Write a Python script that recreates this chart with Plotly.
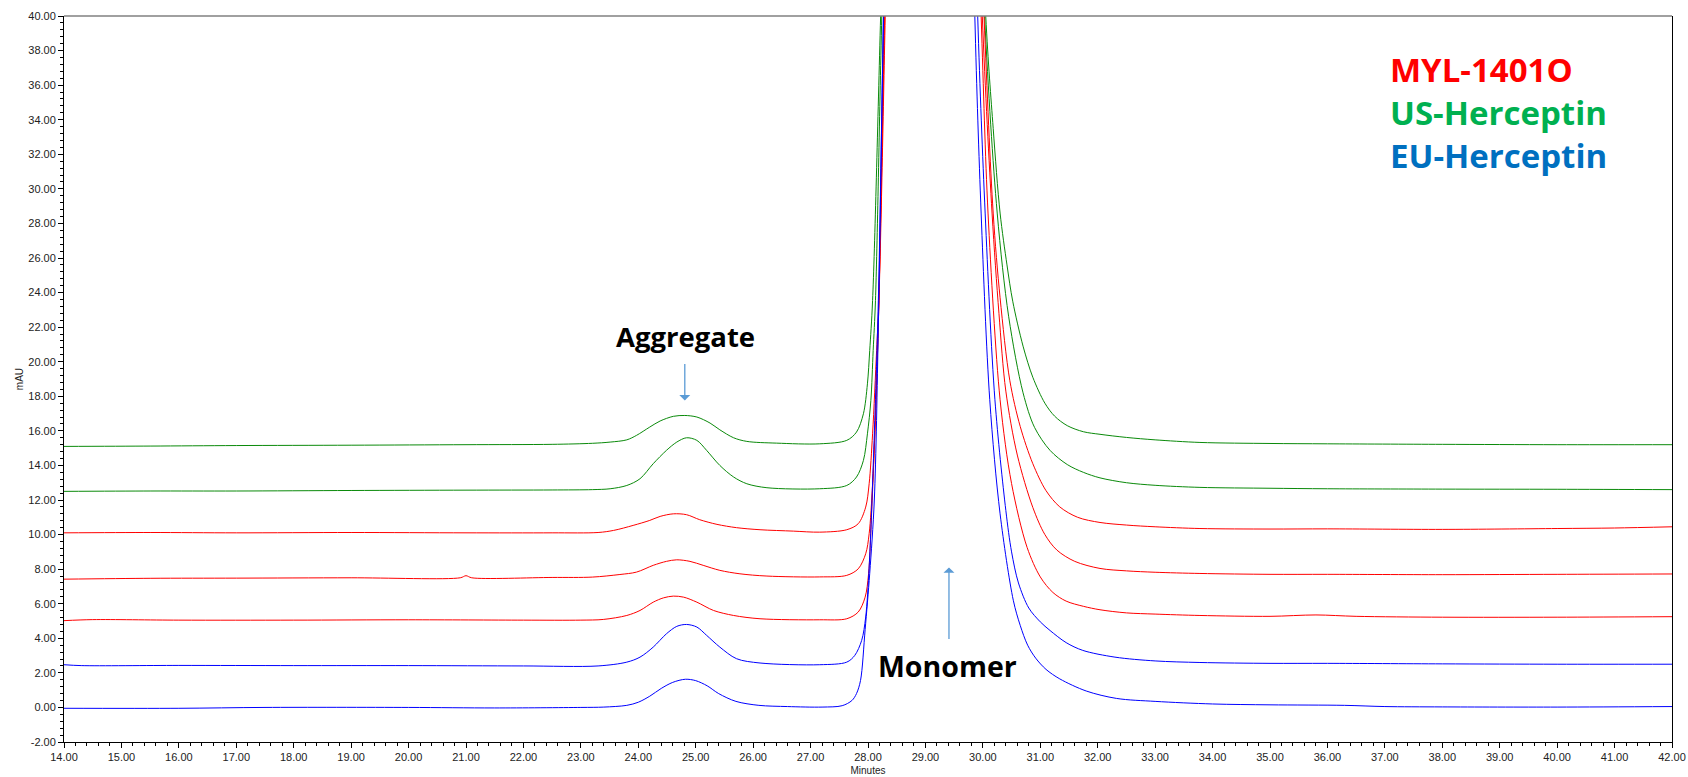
import plotly.graph_objects as go

# ---------------- data ----------------
x_ticks = [14 + i for i in range(29)]           # 14.00 ... 42.00
y_ticks = [-2 + 2 * i for i in range(22)]       # -2.00 ... 40.00

series_names = ["US-Herceptin", "US-Herceptin", "MYL-1401O", "MYL-1401O",
                "MYL-1401O", "EU-Herceptin", "EU-Herceptin"]

# US-Herceptin, lot 1 (top green)
us1_t = [14, 15.5, 17, 19, 21, 22.5, 23.2, 23.51, 23.80, 23.97, 24.20, 24.38, 24.61, 24.81, 25.02, 25.25,
         25.42, 25.66, 25.89, 26.41, 27.16, 27.63, 27.80, 27.92, 27.99, 28.03, 28.08, 28.22, 28.5, 29.1,
         29.65, 30.05, 30.18, 30.3, 30.42, 30.52, 30.7, 30.87, 31.08, 31.25, 31.47, 31.75, 32.04, 32.5,
         33.0, 33.78, 35, 36, 38, 40, 42]
us1_v = [15.10, 15.12, 15.15, 15.17, 15.20, 15.22, 15.28, 15.35, 15.48, 15.74, 16.22, 16.57, 16.84, 16.89,
         16.80, 16.45, 16.06, 15.60, 15.39, 15.29, 15.25, 15.45, 15.93, 16.99, 18.72, 20.65, 23.55, 40.0,
         75, 95, 75, 40.0, 33.5, 28.6, 25.6, 23.5, 20.9, 19.1, 17.6, 16.85, 16.3, 15.95, 15.8, 15.62,
         15.48, 15.33, 15.27, 15.25, 15.22, 15.20, 15.20]

# US-Herceptin, lot 2 (second green)
us2_t = [14, 15.5, 17, 19, 21, 22.5, 23.2, 23.51, 23.80, 24.03, 24.26, 24.49, 24.67, 24.84, 25.02, 25.19,
         25.42, 25.66, 25.89, 26.24, 27.16, 27.63, 27.80, 27.92, 27.99, 28.05, 28.09, 28.13, 28.24, 28.5,
         29.1, 29.65, 30.03, 30.25, 30.45, 30.70, 30.9, 31.17, 31.47, 31.75, 32.04, 32.5, 33.0, 33.78, 35,
         36, 38, 40, 42]
us2_v = [12.50, 12.52, 12.52, 12.55, 12.57, 12.58, 12.60, 12.65, 12.84, 13.23, 14.10, 14.87, 15.35, 15.60,
         15.45, 14.87, 14.00, 13.33, 12.94, 12.71, 12.65, 12.84, 13.33, 14.29, 15.83, 17.76, 20.65, 23.55,
         40.0, 75, 95, 75, 40.0, 28.6, 22.6, 18.2, 16.2, 14.87, 14.05, 13.60, 13.28, 13.0, 12.85, 12.73,
         12.68, 12.65, 12.63, 12.62, 12.60]

# MYL-1401O, lot 1 (upper red)
myl1_t = [14, 15.5, 17, 19, 21, 22.5, 23.3, 23.57, 23.91, 24.20, 24.38, 24.61, 24.84, 25.07, 25.37, 25.71,
          26.12, 26.70, 27.16, 27.63, 27.83, 27.96, 28.02, 28.08, 28.15, 28.19, 28.30, 28.5, 29.1, 29.65,
          30.02, 30.18, 30.3, 30.47, 30.65, 30.87, 31.1, 31.34, 31.65, 32.04, 32.5, 33.0, 33.78, 35, 36,
          38, 40, 41, 42]
myl1_v = [10.10, 10.12, 10.10, 10.12, 10.10, 10.10, 10.12, 10.24, 10.53, 10.82, 11.05, 11.20, 11.15, 10.86,
          10.59, 10.40, 10.28, 10.20, 10.14, 10.28, 10.63, 11.59, 12.94, 15.83, 20.65, 23.55, 40.0, 75, 95,
          75, 40.0, 28.6, 23.7, 18.9, 16.26, 14.1, 12.54, 11.6, 11.0, 10.70, 10.55, 10.45, 10.35, 10.32,
          10.33, 10.30, 10.35, 10.38, 10.45]

# MYL-1401O, lot 2 (middle red)
myl2_t = [14, 15.5, 17, 19, 20.9, 21.0, 21.1, 22.5, 23.2, 23.68, 23.97, 24.26, 24.49, 24.67, 24.90, 25.13,
          25.42, 25.77, 26.24, 27.16, 27.63, 27.83, 27.96, 28.02, 28.08, 28.14, 28.19, 28.29, 28.5, 29.1,
          29.65, 29.99, 30.16, 30.28, 30.40, 30.6, 30.87, 31.08, 31.29, 31.6, 32.04, 32.5, 33.0, 33.78, 35,
          36, 38, 40, 42]
myl2_v = [7.42, 7.47, 7.48, 7.50, 7.50, 7.62, 7.50, 7.52, 7.54, 7.69, 7.83, 8.22, 8.45, 8.54, 8.45, 8.22,
          7.93, 7.73, 7.60, 7.55, 7.64, 8.02, 8.89, 10.05, 12.94, 17.76, 23.55, 40.0, 75, 95, 75, 40.0, 28.6,
          22.8, 18.3, 14.6, 11.57, 10.0, 9.1, 8.45, 8.04, 7.90, 7.82, 7.75, 7.70, 7.70, 7.68, 7.70, 7.72]

# MYL-1401O, lot 3 (lower red)
myl3_t = [14, 14.5, 16, 18, 20, 22, 23.0, 23.39, 23.80, 24.03, 24.26, 24.44, 24.61, 24.79, 25.02, 25.31,
          25.66, 26.12, 27.16, 27.63, 27.83, 27.95, 28.01, 28.06, 28.13, 28.19, 28.28, 28.5, 29.1, 29.65,
          29.97, 30.09, 30.30, 30.5, 30.77, 31.0, 31.22, 31.45, 31.75, 32.04, 32.5, 33.0, 33.78, 35.0, 35.8,
          36.5, 38, 40, 42]
myl3_v = [5.02, 5.08, 5.05, 5.05, 5.07, 5.05, 5.05, 5.09, 5.32, 5.61, 6.09, 6.34, 6.44, 6.38, 6.09, 5.61,
          5.32, 5.13, 5.07, 5.13, 5.52, 6.38, 7.73, 11.01, 16.80, 23.55, 40.0, 75, 95, 75, 40.0, 28.6, 17.8,
          12.95, 9.26, 7.55, 6.65, 6.15, 5.85, 5.65, 5.47, 5.40, 5.32, 5.27, 5.35, 5.27, 5.22, 5.22, 5.25]

# EU-Herceptin, lot 1 (upper blue)
eu1_t = [14, 14.3, 16, 18, 20, 22, 23.3, 23.80, 24.03, 24.26, 24.49, 24.67, 24.84, 25.02, 25.19, 25.42,
         25.71, 26.12, 27.16, 27.63, 27.77, 27.89, 27.96, 28.02, 28.09, 28.18, 28.27, 28.5, 29.1, 29.65,
         29.91, 30.04, 30.21, 30.4, 30.5, 30.62, 30.8, 31.0, 31.17, 31.45, 31.74, 32.3, 33.0, 33.78, 35, 36,
         38, 40, 42]
eu1_v = [2.47, 2.42, 2.43, 2.42, 2.42, 2.40, 2.40, 2.62, 2.91, 3.49, 4.26, 4.69, 4.80, 4.65, 4.17, 3.49,
         2.82, 2.57, 2.47, 2.62, 3.01, 3.88, 5.23, 8.12, 13.90, 23.55, 40.0, 75, 95, 75, 40.0, 28.6, 17.8,
         11.4, 9.0, 7.2, 5.75, 4.95, 4.45, 3.75, 3.30, 2.91, 2.69, 2.60, 2.55, 2.55, 2.52, 2.50, 2.50]

# EU-Herceptin, lot 2 (bottom blue)
eu2_t = [14, 16, 17.5, 20, 21.5, 23.0, 23.4, 23.8, 24.0, 24.2, 24.4, 24.6, 24.82, 25.0, 25.2, 25.4, 25.7,
         26.1, 26.6, 27.2, 27.55, 27.72, 27.8, 27.87, 27.95, 28.03, 28.11, 28.18, 28.27, 28.5, 29.1, 29.65,
         29.86, 29.97, 30.12, 30.30, 30.53, 30.65, 30.78, 30.92, 31.1, 31.34, 31.8, 32.33, 33.0, 34.0, 35,
         36.3, 37.0, 38, 40, 42]
eu2_v = [-0.05, -0.05, 0.0, 0.0, -0.03, 0.0, 0.02, 0.12, 0.30, 0.65, 1.10, 1.45, 1.63, 1.55, 1.25, 0.80,
         0.35, 0.12, 0.05, 0.02, 0.10, 0.40, 0.80, 1.56, 4.50, 7.75, 12.0, 22.0, 40.0, 75, 95, 75, 40.0,
         28.6, 17.8, 11.2, 6.2, 4.75, 3.6, 2.85, 2.2, 1.65, 0.95, 0.52, 0.35, 0.20, 0.15, 0.12, 0.05, 0.03,
         0.02, 0.05]

legend_labels = ["MYL-1401O", "US-Herceptin", "EU-Herceptin"]
legend_colors = ["#FF0000", "#00B050", "#0070C0"]

# ---------------- figure ----------------
RED, GREEN, BLUE = "#FF0000", "#0A8A0A", "#0000FF"
traces = [
    (us1_t, us1_v, GREEN, series_names[0]),
    (us2_t, us2_v, GREEN, series_names[1]),
    (myl1_t, myl1_v, RED, series_names[2]),
    (myl2_t, myl2_v, RED, series_names[3]),
    (myl3_t, myl3_v, RED, series_names[4]),
    (eu1_t, eu1_v, BLUE, series_names[5]),
    (eu2_t, eu2_v, BLUE, series_names[6]),
]

fig = go.Figure()
for t, v, c, n in traces:
    fig.add_trace(go.Scatter(x=t, y=v, mode="lines", name=n, showlegend=False,
                             line=dict(color=c, width=1.0, shape="spline", smoothing=0.9),
                             hoverinfo="skip"))

tickfont = dict(family="Liberation Sans, Arial, sans-serif", size=11, color="#222222")
titlefont = dict(family="Liberation Sans, Arial, sans-serif", size=10, color="#222222")

fig.update_layout(
    width=1688, height=777,
    margin=dict(l=64, r=16, t=16, b=35),
    paper_bgcolor="white", plot_bgcolor="white",
    xaxis=dict(range=[14, 42], tickvals=x_ticks, ticktext=[f"{v:.2f}" for v in x_ticks],
               automargin=False,
               showgrid=False, zeroline=False, showline=True, linecolor="black", linewidth=1,
               ticks="outside", ticklen=5, tickcolor="black", tickfont=tickfont,
               minor=dict(dtick=0.2, ticks="outside", ticklen=3, tickcolor="black", showgrid=False),
               title=dict(text="Minutes", font=titlefont, standoff=4)),
    yaxis=dict(range=[-2, 40], tickvals=y_ticks, ticktext=[f"{v:.2f}" for v in y_ticks],
               automargin=False,
               showgrid=False, zeroline=False, showline=True, linecolor="black", linewidth=1,
               mirror=True,
               ticks="outside", ticklen=5, tickcolor="black", tickfont=tickfont,
               minor=dict(dtick=0.4, ticks="outside", ticklen=3, tickcolor="black", showgrid=False),
               title=dict(text="mAU", font=titlefont, standoff=2)),
    shapes=[dict(type="line", xref="paper", yref="paper", x0=0, x1=1, y0=1, y1=1,
                 line=dict(color="#808080", width=1.5))],
)

label_font = "Open Sans, Noto Sans, sans-serif"
legend_text = "<br>".join(f"<span style='color:{c}'><b>{lab}</b></span>"
                          for lab, c in zip(legend_labels, legend_colors))
ann = [dict(xref="paper", yref="paper", x=0.8234, y=0.8675, xanchor="left", yanchor="middle",
            align="left", showarrow=False, text=legend_text,
            font=dict(family=label_font, size=33, color="#FF0000"))]
ann.append(dict(xref="paper", yref="paper", x=0.3868, y=0.5585, xanchor="center", yanchor="middle",
                showarrow=False, text="<b>Aggregate</b>",
                font=dict(family=label_font, size=27.5, color="black")))
ann.append(dict(xref="paper", yref="paper", x=0.5495, y=0.104, xanchor="center", yanchor="middle",
                showarrow=False, text="<b>Monomer</b>",
                font=dict(family=label_font, size=28.5, color="black")))
# arrows
ann.append(dict(x=24.81, y=17.76, xref="x", yref="y", ax=0, ay=-38, text="", showarrow=True,
                arrowhead=1, arrowsize=1.4, arrowwidth=1.3, arrowcolor="#5B9BD5"))
ann.append(dict(x=29.41, y=8.1, xref="x", yref="y", ax=0, ay=73, text="", showarrow=True,
                arrowhead=1, arrowsize=1.4, arrowwidth=1.3, arrowcolor="#5B9BD5"))
fig.update_layout(annotations=ann)

fig.write_html("out.html", config={"displayModeBar": False})
